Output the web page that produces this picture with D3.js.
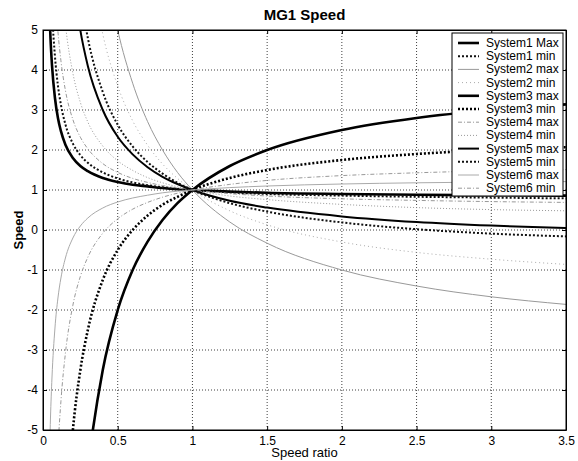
<!DOCTYPE html>
<html>
<head>
<meta charset="utf-8">
<script src="https://cdn.jsdelivr.net/npm/d3@7"></script>
<style>
  body { margin: 0; background: #fff; }
  svg { font-family: "Liberation Sans", Arial, sans-serif; }
</style>
</head>
<body>
<div id="chart"></div>
<script>
// speed ratio sample points (x axis)
var ratio = [0.04, 0.05, 0.06, 0.08, 0.1, 0.12, 0.15, 0.2, 0.25, 0.3, 0.4, 0.5, 0.6, 0.7, 0.8, 0.9, 1, 1.25, 1.5, 2, 2.5, 3, 3.5];

// MG1 speed (null = off the plot)
var sys1Max = [5.8, 4.8, 4.13, 3.3, 2.8, 2.47, 2.13, 1.8, 1.6, 1.47, 1.3, 1.2, 1.13, 1.09, 1.05, 1.02, 1, 0.96, 0.93, 0.9, 0.88, 0.87, 0.86];
var sys1Min = [null, 6.51, 5.54, 4.34, 3.61, 3.13, 2.64, 2.16, 1.87, 1.68, 1.44, 1.29, 1.19, 1.12, 1.07, 1.03, 1, 0.94, 0.9, 0.86, 0.83, 0.81, 0.79];
var sys2Max = [null, null, null, null, null, null, null, null, null, null, 7, 5, 3.67, 2.71, 2.0, 1.44, 1, 0.2, -0.33, -1.0, -1.4, -1.67, -1.86];
var sys2Min = [null, null, null, null, null, null, null, null, 8.8, 7.07, 4.9, 3.6, 2.73, 2.12, 1.65, 1.29, 1, 0.48, 0.13, -0.3, -0.56, -0.73, -0.86];
var sys3Max = [null, null, null, null, null, null, null, null, -8, -6, -3.5, -2, -1, -0.29, 0.25, 0.67, 1, 1.6, 2.0, 2.5, 2.8, 3.0, 3.14];
var sys3Min = [null, null, null, null, null, null, -7.5, -5, -3.5, -2.5, -1.25, -0.5, 0, 0.36, 0.63, 0.83, 1, 1.3, 1.5, 1.75, 1.9, 2.0, 2.07];
var sys4Max = [null, null, 7.89, 6.06, 4.96, 4.23, 3.49, 2.76, 2.32, 2.03, 1.66, 1.44, 1.29, 1.19, 1.11, 1.05, 1, 0.91, 0.85, 0.78, 0.74, 0.71, 0.69];
var sys4Min = [null, null, null, null, null, 6.35, 5.14, 3.92, 3.19, 2.7, 2.1, 1.73, 1.49, 1.31, 1.18, 1.08, 1, 0.85, 0.76, 0.64, 0.56, 0.51, 0.48];
var sys5Max = [null, null, null, null, null, null, 8.54, 6.32, 4.99, 4.1, 3.0, 2.33, 1.89, 1.57, 1.33, 1.15, 1, 0.73, 0.56, 0.34, 0.2, 0.11, 0.05];
var sys5Min = [null, null, null, null, null, null, null, 7.52, 5.89, 4.8, 3.45, 2.63, 2.09, 1.7, 1.41, 1.18, 1, 0.67, 0.46, 0.19, 0.02, -0.09, -0.16];
var sys6Max = [-6.2, -4.7, -3.7, -2.45, -1.7, -1.2, -0.7, -0.2, 0.1, 0.3, 0.55, 0.7, 0.8, 0.87, 0.93, 0.97, 1, 1.06, 1.1, 1.15, 1.18, 1.2, 1.21];
var sys6Min = [null, null, null, -7.28, -5.48, -4.28, -3.08, -1.88, -1.16, -0.68, -0.08, 0.28, 0.52, 0.69, 0.82, 0.92, 1, 1.14, 1.24, 1.36, 1.43, 1.48, 1.51];

var seriesNames = ["System1 Max", "System1 min", "System2 max", "System2 min", "System3 max", "System3 min",
                   "System4 max", "System4 min", "System5 max", "System5 min", "System6 max", "System6 min"];
var seriesValues = [sys1Max, sys1Min, sys2Max, sys2Min, sys3Max, sys3Min, sys4Max, sys4Min, sys5Max, sys5Min, sys6Max, sys6Min];

var xTicks = [0, 0.5, 1, 1.5, 2, 2.5, 3, 3.5];
var yTicks = [-5, -4, -3, -2, -1, 0, 1, 2, 3, 4, 5];

// line look for each series
var styles = [
    { color: "#000", width: 2.6, dash: null },
    { color: "#111", width: 2.0, dash: "2,2" },
    { color: "#999", width: 1.0, dash: null },
    { color: "#aaa", width: 1.0, dash: "1,3" },
    { color: "#000", width: 2.6, dash: null },
    { color: "#000", width: 2.6, dash: "2,2" },
    { color: "#999", width: 1.0, dash: "4,2,1,2" },
    { color: "#999", width: 1.0, dash: "1,2" },
    { color: "#000", width: 2.0, dash: null },
    { color: "#111", width: 2.0, dash: "2,2" },
    { color: "#aaa", width: 1.0, dash: null },
    { color: "#999", width: 1.0, dash: "4,2,1,2" }
];

var width = 578, height = 461;
var plotLeft = 43, plotRight = 566, plotTop = 30, plotBottom = 430;

var svg = d3.select("#chart").append("svg")
    .attr("width", width)
    .attr("height", height);

svg.append("rect").attr("width", width).attr("height", height).attr("fill", "#fff");

var x = d3.scaleLinear().domain([0, 3.5]).range([plotLeft, plotRight]);
var y = d3.scaleLinear().domain([-5, 5]).range([plotBottom, plotTop]);

// grid
svg.append("g").selectAll("line")
    .data(xTicks.slice(1, -1))
    .enter().append("line")
    .attr("x1", d => x(d)).attr("x2", d => x(d))
    .attr("y1", plotTop).attr("y2", plotBottom)
    .attr("stroke", "#000").attr("stroke-width", 1)
    .attr("stroke-dasharray", "1,2").attr("opacity", 0.75);

svg.append("g").selectAll("line")
    .data(yTicks.slice(1, -1))
    .enter().append("line")
    .attr("x1", plotLeft).attr("x2", plotRight)
    .attr("y1", d => y(d)).attr("y2", d => y(d))
    .attr("stroke", "#000").attr("stroke-width", 1)
    .attr("stroke-dasharray", "1,2").attr("opacity", 0.75);

// clip for the curves
svg.append("clipPath").attr("id", "plotClip")
    .append("rect")
    .attr("x", plotLeft).attr("y", plotTop)
    .attr("width", plotRight - plotLeft).attr("height", plotBottom - plotTop);

var lineGenerator = d3.line()
    .defined(d => d.y !== null)
    .x(d => x(d.x))
    .y(d => y(d.y))
    .curve(d3.curveMonotoneX);

var curves = svg.append("g").attr("clip-path", "url(#plotClip)");

seriesValues.forEach(function (vals, i) {
    var pts = ratio.map(function (r, j) { return { x: r, y: vals[j] }; });
    var s = styles[i];
    curves.append("path")
        .datum(pts)
        .attr("fill", "none")
        .attr("stroke", s.color)
        .attr("stroke-width", s.width)
        .attr("stroke-dasharray", s.dash)
        .attr("d", lineGenerator);
});

// plain hyphen for negatives, like the original
var plainFormat = function (d) { return String(d); };

// axes, ticks pointing inward like matlab
svg.append("g")
    .attr("transform", "translate(0," + plotBottom + ")")
    .call(d3.axisBottom(x).tickValues(xTicks).tickFormat(plainFormat).tickSizeInner(-4).tickSizeOuter(0).tickPadding(6));

svg.append("g")
    .attr("transform", "translate(" + plotLeft + ",0)")
    .call(d3.axisLeft(y).tickValues(yTicks).tickFormat(plainFormat).tickSizeInner(-4).tickSizeOuter(0).tickPadding(5));

svg.append("g")
    .attr("transform", "translate(0," + plotTop + ")")
    .call(d3.axisTop(x).tickValues(xTicks).tickFormat("").tickSizeInner(-4).tickSizeOuter(0));

svg.append("g")
    .attr("transform", "translate(" + plotRight + ",0)")
    .call(d3.axisRight(y).tickValues(yTicks).tickFormat("").tickSizeInner(-4).tickSizeOuter(0));

svg.selectAll(".domain").attr("stroke", "#000");
svg.selectAll(".tick line").attr("stroke", "#000");
svg.selectAll(".tick text").attr("fill", "#000").attr("font-size", 12)
    .attr("font-family", "Liberation Sans, Arial, sans-serif");

// plot frame
svg.append("rect")
    .attr("x", plotLeft).attr("y", plotTop)
    .attr("width", plotRight - plotLeft).attr("height", plotBottom - plotTop)
    .attr("fill", "none").attr("stroke", "#000").attr("stroke-width", 1);

// titles
svg.append("text")
    .attr("x", (plotLeft + plotRight) / 2).attr("y", 20)
    .attr("text-anchor", "middle")
    .attr("font-size", 15).attr("font-weight", "bold")
    .text("MG1 Speed");

svg.append("text")
    .attr("x", (plotLeft + plotRight) / 2).attr("y", 457)
    .attr("text-anchor", "middle")
    .attr("font-size", 13)
    .text("Speed ratio");

svg.append("text")
    .attr("transform", "translate(23," + (plotTop + plotBottom) / 2 + ") rotate(-90)")
    .attr("text-anchor", "middle")
    .attr("font-size", 13).attr("font-weight", "bold")
    .text("Speed");

// legend
var lx = 452, ly = 33, lw = 111, lh = 163, rowH = 13.2;
var legend = svg.append("g");
legend.append("rect")
    .attr("x", lx).attr("y", ly)
    .attr("width", lw).attr("height", lh)
    .attr("fill", "#fff").attr("stroke", "#000").attr("stroke-width", 1);

seriesNames.forEach(function (name, i) {
    var cy = ly + 10 + i * rowH;
    var s = styles[i];
    legend.append("line")
        .attr("x1", lx + 6).attr("x2", lx + 27)
        .attr("y1", cy).attr("y2", cy)
        .attr("stroke", s.color)
        .attr("stroke-width", s.width)
        .attr("stroke-dasharray", s.dash);
    legend.append("text")
        .attr("x", lx + 34).attr("y", cy + 4)
        .attr("font-size", 12)
        .text(name);
});
</script>
</body>
</html>
